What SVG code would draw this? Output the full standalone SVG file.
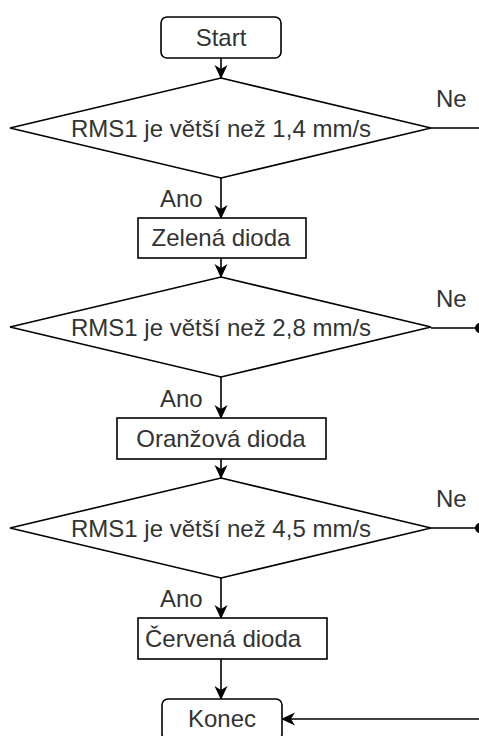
<svg xmlns="http://www.w3.org/2000/svg" width="479" height="736" viewBox="0 0 479 736">
  <defs>
    <marker id="arrow" markerUnits="userSpaceOnUse" markerWidth="14" markerHeight="14" viewBox="0 0 14 14" refX="13" refY="7" orient="auto">
      <path d="M0,0.5 L14,7 L0,13.5 L4,7 Z" fill="#000"/>
    </marker>
    <marker id="dot" markerUnits="userSpaceOnUse" markerWidth="12" markerHeight="12" viewBox="0 0 12 12" refX="4" refY="6" orient="auto">
      <circle cx="6" cy="6" r="5" fill="#000"/>
    </marker>
  </defs>
  <style>
    .shape { fill: #fff; stroke: #000; stroke-width: 1.6; }
    .edge { fill: none; stroke: #000; stroke-width: 1.6; }
    .label { font-family: "Liberation Sans", Arial, sans-serif; font-size: 24px; fill: #333; }
    .mid { text-anchor: middle; }
  </style>
  <rect width="479" height="736" fill="#fff"/>

  <!-- connectors -->
  <g id="connectors">
    <path class="edge" d="M221,58 V78" marker-end="url(#arrow)"/>
    <path class="edge" d="M221,178 V218" marker-end="url(#arrow)"/>
    <path class="edge" d="M221,258 V277" marker-end="url(#arrow)"/>
    <path class="edge" d="M221,377 V418" marker-end="url(#arrow)"/>
    <path class="edge" d="M221,459 V478" marker-end="url(#arrow)"/>
    <path class="edge" d="M221,578 V618" marker-end="url(#arrow)"/>
    <path class="edge" d="M221,659 V699" marker-end="url(#arrow)"/>
    <path class="edge" d="M431,128 H480"/>
    <path class="edge" d="M431,328 H478" marker-end="url(#dot)"/>
    <path class="edge" d="M431,528 H478" marker-end="url(#dot)"/>
    <path class="edge" d="M480,719 H282" marker-end="url(#arrow)"/>
    <text class="label" x="436" y="107">Ne</text>
    <text class="label" x="436" y="307">Ne</text>
    <text class="label" x="436" y="507">Ne</text>
    <text class="label" x="160" y="207">Ano</text>
    <text class="label" x="160" y="407">Ano</text>
    <text class="label" x="160" y="607">Ano</text>
  </g>

  <g id="start">
    <rect class="shape" x="161" y="17" width="120" height="41" rx="6"/>
    <text class="label mid" x="221" y="46">Start</text>
  </g>

  <g id="decision1">
    <polygon class="shape" points="221,78 431,128 221,178 10,128"/>
    <text class="label mid" x="221" y="137">RMS1 je větší než 1,4 mm/s</text>
  </g>

  <g id="green">
    <rect class="shape" x="138" y="218" width="168" height="40"/>
    <text class="label mid" x="221" y="246">Zelená dioda</text>
  </g>

  <g id="decision2">
    <polygon class="shape" points="221,277 431,327 221,377 10,327"/>
    <text class="label mid" x="221" y="336">RMS1 je větší než 2,8 mm/s</text>
  </g>

  <g id="orange">
    <rect class="shape" x="117" y="418" width="209" height="41"/>
    <text class="label mid" x="221" y="447">Oranžová dioda</text>
  </g>

  <g id="decision3">
    <polygon class="shape" points="221,478 431,528 221,578 10,528"/>
    <text class="label mid" x="221" y="537">RMS1 je větší než 4,5 mm/s</text>
  </g>

  <g id="red">
    <rect class="shape" x="138" y="618" width="189" height="41"/>
    <text class="label" x="145" y="647">Červená dioda</text>
  </g>

  <g id="end">
    <rect class="shape" x="162" y="699" width="120" height="41" rx="6"/>
    <text class="label mid" x="222" y="727">Konec</text>
  </g>
</svg>
